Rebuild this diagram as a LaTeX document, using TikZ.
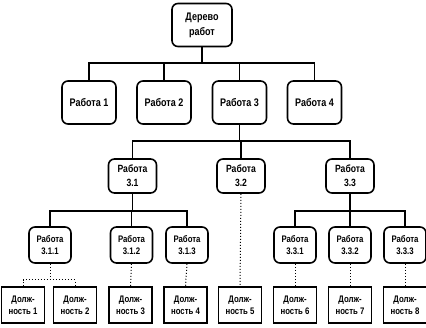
\documentclass[tikz,border=0pt]{standalone}
\usepackage{fontspec}
\setmainfont{Liberation Sans}[FakeStretch=0.82]
\begin{document}
\begin{tikzpicture}[x=1pt,y=-1pt,
  rbox/.style={draw, line width=1.6pt, rounded corners=6pt, align=center, inner sep=0pt, font=\bfseries},
  r0/.style={rbox, minimum width=60pt, minimum height=43pt, font=\bfseries\fontsize{11}{15}\selectfont},
  r1/.style={rbox, minimum width=54pt, minimum height=43pt, font=\bfseries\fontsize{11}{12}\selectfont},
  r2/.style={rbox, minimum width=48pt, minimum height=34pt, font=\bfseries\fontsize{10.5}{14}\selectfont},
  r3/.style={rbox, minimum width=42pt, minimum height=36pt, font=\bfseries\fontsize{9.5}{12}\selectfont},
  pbox/.style={draw, line width=1.6pt, align=center, inner sep=0pt, minimum width=43pt, minimum height=36pt, font=\bfseries\fontsize{9.5}{12}\selectfont},
  conn/.style={line width=1.6pt},
  dconn/.style={line width=1pt, dotted}]
\useasboundingbox[fill=white] (0,0) rectangle (426,328);
% nodes
\node[r0] (root) at (202,25) {Дерево\\работ};
\node[r1] (w1) at (89,102.5) {Работа 1};
\node[r1] (w2) at (164,102.5) {Работа 2};
\node[r1] (w3) at (239.5,102.5) {Работа 3};
\node[r1] (w4) at (314.5,102.5) {Работа 4};
\node[r2] (w31) at (132.5,176) {Работа\\3.1};
\node[r2] (w32) at (241,176) {Работа\\3.2};
\node[r2] (w33) at (350,176) {Работа\\3.3};
\node[r3] (w311) at (50,245) {Работа\\3.1.1};
\node[r3] (w312) at (131.5,245) {Работа\\3.1.2};
\node[r3] (w313) at (187,245) {Работа\\3.1.3};
\node[r3] (w331) at (295,245) {Работа\\3.3.1};
\node[r3] (w332) at (350,245) {Работа\\3.3.2};
\node[r3] (w333) at (405,245) {Работа\\3.3.3};
\node[pbox] (d1) at (23,305) {Долж-\\ность 1};
\node[pbox] (d2) at (75,305) {Долж-\\ность 2};
\node[pbox] (d3) at (130.5,305) {Долж-\\ность 3};
\node[pbox] (d4) at (185.5,305) {Долж-\\ность 4};
\node[pbox] (d5) at (240,305) {Долж-\\ность 5};
\node[pbox] (d6) at (295,305) {Долж-\\ность 6};
\node[pbox] (d7) at (350,305) {Долж-\\ность 7};
\node[pbox] (d8) at (405,305) {Долж-\\ность 8};
% bar levels
\coordinate (b1) at (0,63);
\coordinate (b2) at (0,141);
\coordinate (b3) at (0,211);
\coordinate (b4) at (0,280);
% level 1
\draw[conn] (root.south) -- (root.south |- b1);
\draw[conn] (w1.north) -- (w1.north |- b1) -- (w4.north |- b1) -- (w4.north);
\draw[conn] (w2.north) -- (w2.north |- b1);
\draw[conn] (w3.north) -- (w3.north |- b1);
% level 2
\draw[conn] (w3.south) -- (w3.south |- b2);
\draw[conn] (w31.north) -- (w31.north |- b2) -- (w33.north |- b2) -- (w33.north);
\draw[conn] (w32.north) -- (w32.north |- b2);
% level 3
\draw[conn] (w31.south) -- (w31.south |- b3);
\draw[conn] (w311.north) -- (w311.north |- b3) -- (w313.north |- b3) -- (w313.north);
\draw[conn] (w312.north) -- (w312.north |- b3);
\draw[conn] (w33.south) -- (w33.south |- b3);
\draw[conn] (w331.north) -- (w331.north |- b3) -- (w333.north |- b3) -- (w333.north);
\draw[conn] (w332.north) -- (w332.north |- b3);
% level 4 (dotted)
\draw[dconn] (w311.south) -- (w311.south |- b4);
\draw[dconn] (d1.north) -- (d1.north |- b4) -- (d2.north |- b4) -- (d2.north);
\draw[dconn] (w312.south) -- (d3.north);
\draw[dconn] (w313.south) -- (d4.north);
\draw[dconn] (w32.south) -- (d5.north);
\draw[dconn] (w331.south) -- (d6.north);
\draw[dconn] (w332.south) -- (d7.north);
\draw[dconn] (w333.south) -- (d8.north);
\end{tikzpicture}
\end{document}
